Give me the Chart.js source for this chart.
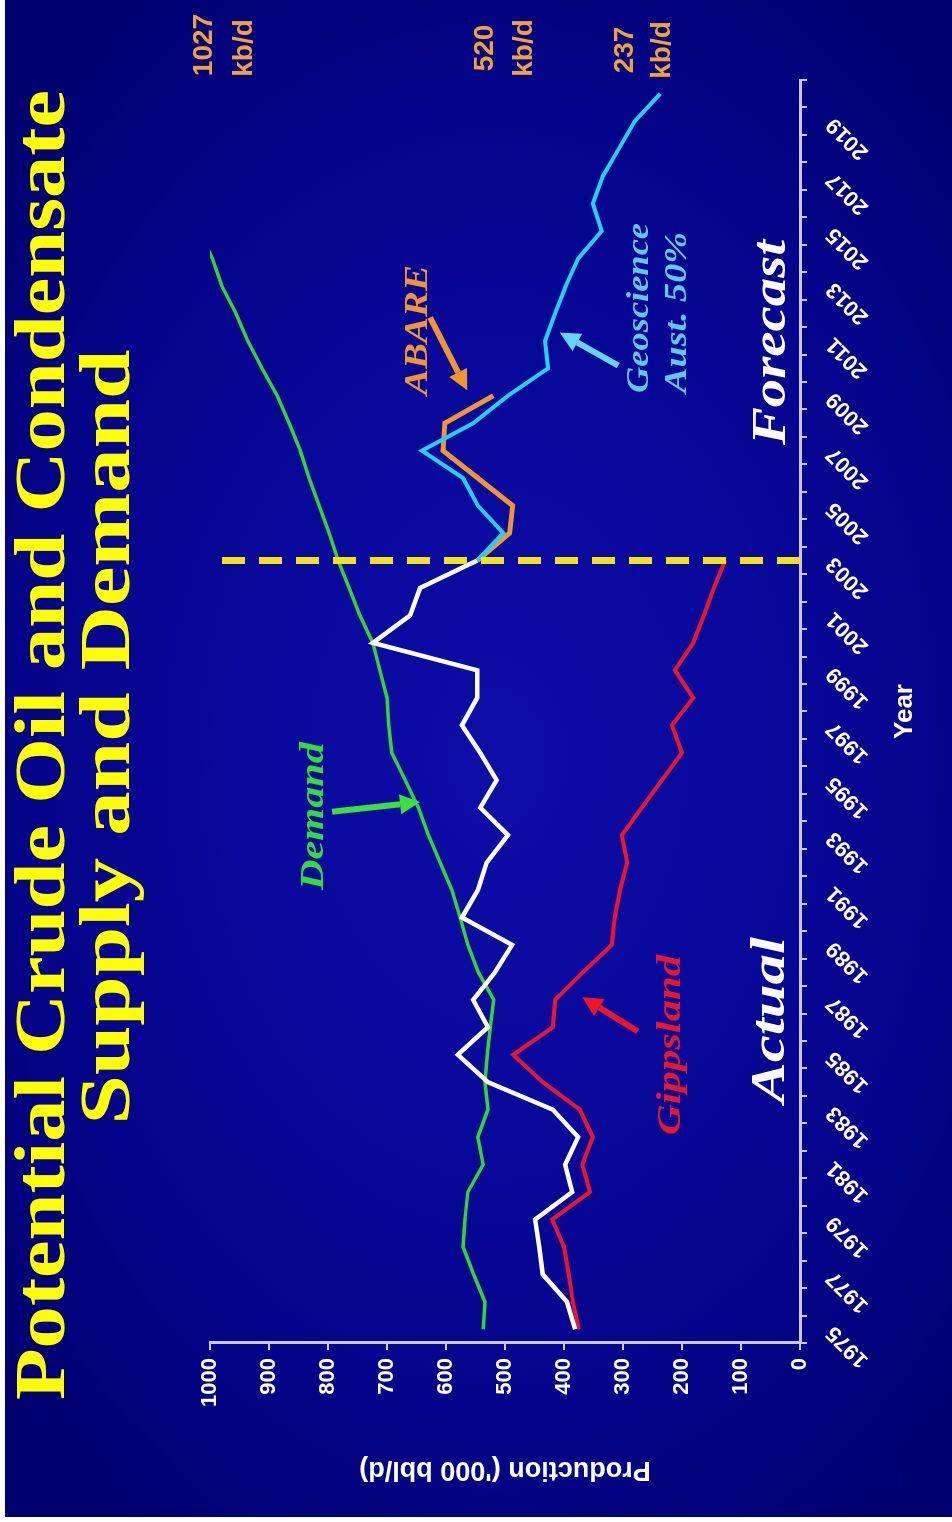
<!DOCTYPE html>
<html>
<head>
<meta charset="utf-8">
<title>Potential Crude Oil and Condensate Supply and Demand</title>
<script src="https://cdn.jsdelivr.net/npm/chart.js@4.4.1/dist/chart.umd.min.js"></script>
<style>
  html, body { margin: 0; padding: 0; background: #fff; }
  body { width: 952px; height: 1522px; overflow: hidden; position: relative; }

  /* the slide is laid out landscape, then turned a quarter turn anticlockwise */
  #stage {
    position: absolute; left: 0; top: 0; width: 1522px; height: 952px;
    transform-origin: 0 0; transform: translate(0, 1522px) rotate(-90deg);
    background: #fff;
  }
  #panel {
    position: absolute; left: 5px; top: 5px; width: 1517px; height: 947px;
    background: radial-gradient(ellipse 62% 70% at 50% 52%, #0d0da8 0%, #08089a 40%, #04048a 70%, #00006e 100%);
  }
  #chart { position: absolute; left: 0; top: 0; }
  #notes { position: absolute; left: 0; top: 0; pointer-events: none; }
  #notes text { font-family: 'Liberation Serif', 'Times New Roman', serif; font-weight: bold; }
  #notes .it { font-style: italic; }
  #notes .kb { font-family: 'Liberation Sans', Arial, sans-serif; fill: #f0a23a; font-size: 28px; }
</style>
</head>
<body>
<div id="stage">
  <div id="panel"></div>
  <canvas id="chart" width="1522" height="952"></canvas>
  <svg id="notes" width="1522" height="952" xmlns="http://www.w3.org/2000/svg">
    <!-- title -->
    <text x="777" y="64" font-size="71" fill="#ffff00" text-anchor="middle"
          textLength="1310" lengthAdjust="spacingAndGlyphs">Potential Crude Oil and Condensate</text>
    <text x="785" y="129" font-size="71" fill="#ffff00" text-anchor="middle"
          textLength="775" lengthAdjust="spacingAndGlyphs">Supply and Demand</text>

    <!-- series labels -->
    <text class="it" x="632" y="323" font-size="34" fill="#33dd33"
          textLength="148" lengthAdjust="spacingAndGlyphs">Demand</text>
    <text class="it" x="387" y="680" font-size="34" fill="#ee1528"
          textLength="180" lengthAdjust="spacingAndGlyphs">Gippsland</text>
    <text class="it" x="1127" y="427" font-size="33" fill="#f0962e"
          textLength="130" lengthAdjust="spacingAndGlyphs">ABARE</text>
    <text class="it" x="1129" y="648" font-size="31" fill="#5ccaf2"
          textLength="170" lengthAdjust="spacingAndGlyphs">Geoscience</text>
    <text class="it" x="1129" y="686" font-size="31" fill="#5ccaf2"
          textLength="161" lengthAdjust="spacingAndGlyphs">Aust. 50%</text>

    <!-- period labels -->
    <text class="it" x="419" y="784" font-size="49" fill="#ffffff"
          textLength="166" lengthAdjust="spacingAndGlyphs">Actual</text>
    <text class="it" x="1077" y="785" font-size="49" fill="#ffffff"
          textLength="205" lengthAdjust="spacingAndGlyphs">Forecast</text>

    <!-- end values -->
    <text class="kb" x="1477" y="212" text-anchor="middle">1027</text>
    <text class="kb" x="1474" y="252" text-anchor="middle">kb/d</text>
    <text class="kb" x="1474" y="493" text-anchor="middle">520</text>
    <text class="kb" x="1474" y="532" text-anchor="middle">kb/d</text>
    <text class="kb" x="1472" y="633" text-anchor="middle">237</text>
    <text class="kb" x="1472" y="670" text-anchor="middle">kb/d</text>
  </svg>
</div>

<script>
/* ── Data ─────────────────────────────────────────────────────────────────── */

const YEARS = [
  '1975','1976','1977','1978','1979','1980','1981','1982','1983','1984',
  '1985','1986','1987','1988','1989','1990','1991','1992','1993','1994',
  '1995','1996','1997','1998','1999','2000','2001','2002','2003','2004',
  '2005','2006','2007','2008','2009','2010','2011','2012','2013','2014',
  '2015','2016','2017','2018','2019','2020'
];

// Actual total production ('000 bbl/d), 1975–2003
const ACTUAL_START = 1975;
const ACTUAL = [
  381, 395, 436, 442, 449, 386, 398, 376, 419, 529,
  580, 529, 554, 517, 488, 573, 546, 531, 495, 542,
  514, 542, 573, 547, 547, 724, 661, 644, 547
];

// Gippsland production, 1975–2003
const GIPPS_START = 1975;
const GIPPSLAND = [
  375, 385, 392, 400, 420, 356, 369, 351, 373, 436,
  486, 419, 415, 368, 319, 314, 305, 293, 302, 268,
  234, 200, 217, 181, 212, 181, 163, 146, 127
];

// Demand, 1975–2015 (runs off the top of the axis)
const DEMAND_START = 1975;
const DEMAND = [
  537, 534, 553, 571, 568, 563, 537, 546, 529, 534,
  530, 525, 519, 545, 563, 576, 590, 610, 630, 647,
  669, 692, 697, 700, 712, 724, 746, 764, 783, 798,
  815, 832, 847, 866, 886, 912, 936, 956, 980, 996,
  1018
];

// Geoscience Australia 50% forecast, 2003–2020
const GA_START = 2003;
const GA50 = [
  547, 503, 546, 571, 641, 554, 495, 427, 432, 415,
  397, 376, 336, 351, 334, 307, 280, 237
];

// ABARE forecast, 2003–2009
const ABARE_START = 2003;
const ABARE = [547, 492, 487, 546, 605, 602, 520];

const FORECAST_YEAR = 2003;   // dashed divider between actual and forecast

// annotation arrows, in (year, value) space
const ARROWS = [
  { from: [1993.85, 793], to: [1994.2, 644], color: '#3be03b' },
  { from: [1985.85, 275], to: [1987.1, 369], color: '#ee1528' },
  { from: [2011.85, 627], to: [2009.2, 564], color: '#f0962e' },
  { from: [2010.1, 308],  to: [2011.3, 407], color: '#66d4f4' },
];

// ── Helper ────────────────────────────────────────────────────────────────────
function points(start, values) {
  return values.map((v, i) => ({ x: String(start + i), y: v }));
}

function series(label, start, values, color, width) {
  return {
    label,
    data: points(start, values),
    borderColor: color,
    backgroundColor: color,
    borderWidth: width,
    pointRadius: 0,
    tension: 0,
    fill: false,
  };
}

function arrow(ctx, x1, y1, x2, y2, color, width, head) {
  const a = Math.atan2(y2 - y1, x2 - x1);
  const bx = x2 - Math.cos(a) * head;
  const by = y2 - Math.sin(a) * head;
  ctx.strokeStyle = color;
  ctx.fillStyle = color;
  ctx.lineWidth = width;
  ctx.setLineDash([]);
  ctx.beginPath();
  ctx.moveTo(x1, y1);
  ctx.lineTo(bx, by);
  ctx.stroke();
  ctx.beginPath();
  ctx.moveTo(x2, y2);
  ctx.lineTo(bx + Math.sin(a) * head * 0.5, by - Math.cos(a) * head * 0.5);
  ctx.lineTo(bx - Math.sin(a) * head * 0.5, by + Math.cos(a) * head * 0.5);
  ctx.closePath();
  ctx.fill();
}

// ── Divider + arrows plugin ───────────────────────────────────────────────────
const annotate = {
  id: 'annotate',
  afterDatasetsDraw(chart) {
    const { ctx, scales: { x, y } } = chart;
    const px = yr => x.getPixelForValue(yr - 1975);

    ctx.save();
    const fx = px(FORECAST_YEAR);
    ctx.strokeStyle = '#f2e21c';
    ctx.lineWidth = 7;
    ctx.setLineDash([23, 14]);
    ctx.beginPath();
    ctx.moveTo(fx, y.getPixelForValue(0));
    ctx.lineTo(fx, y.getPixelForValue(988));
    ctx.stroke();

    ARROWS.forEach(a => {
      arrow(ctx,
        px(a.from[0]), y.getPixelForValue(a.from[1]),
        px(a.to[0]),   y.getPixelForValue(a.to[1]),
        a.color, 6, 20);
    });
    ctx.restore();
  }
};

// ── Chart ─────────────────────────────────────────────────────────────────────
const AXIS = '#c8c8f0';
const tickFont = { family: 'Liberation Sans', weight: 'bold', size: 22 };

new Chart(document.getElementById('chart'), {
  type: 'line',
  data: {
    labels: YEARS,
    datasets: [
      series('Geoscience Aust. 50%', GA_START, GA50, '#1fd3f2', 4),
      series('ABARE', ABARE_START, ABARE, '#f0962e', 5),
      series('Production', ACTUAL_START, ACTUAL, '#ffffff', 4.5),
      series('Gippsland', GIPPS_START, GIPPSLAND, '#ee1528', 4),
      series('Demand', DEMAND_START, DEMAND, '#2fd72f', 3.5),
    ],
  },
  options: {
    responsive: false,
    devicePixelRatio: 1,
    animation: false,
    events: [],
    layout: { padding: { top: 210, right: 80, left: 0, bottom: 0 } },
    plugins: { legend: { display: false }, tooltip: { enabled: false } },
    scales: {
      x: {
        type: 'category',
        offset: true,
        grid: { drawOnChartArea: false, drawTicks: true, tickLength: 7, color: AXIS, lineWidth: 2, offset: true },
        border: { display: true, color: AXIS, width: 3 },
        ticks: {
          color: '#ffffff', font: tickFont, autoSkip: false,
          minRotation: 45, maxRotation: 45, padding: 14,
          callback: (v, i) => (i % 2 === 0 ? YEARS[i] : ''),
        },
        title: {
          display: true, text: 'Year', color: '#ffffff',
          font: { family: 'Liberation Sans', weight: 'bold', size: 26 },
          padding: { top: 0, bottom: 32 },
        },
        afterFit: s => { s.height = 152; },
      },
      y: {
        min: 0, max: 1000,
        grid: { drawOnChartArea: false, drawTicks: true, tickLength: 7, color: AXIS, lineWidth: 2 },
        border: { display: true, color: AXIS, width: 3 },
        ticks: { stepSize: 100, color: '#ffffff', font: tickFont, padding: 8, callback: v => String(v) },
        title: {
          display: true, text: "Production ('000 bbl/d)", color: '#ffffff',
          font: { family: 'Liberation Sans', weight: 'bold', size: 27 },
          padding: { top: 36, bottom: 0 },
        },
        afterFit: s => { s.width = 179; },
      },
    },
  },
  plugins: [annotate],
});
</script>
</body>
</html>
